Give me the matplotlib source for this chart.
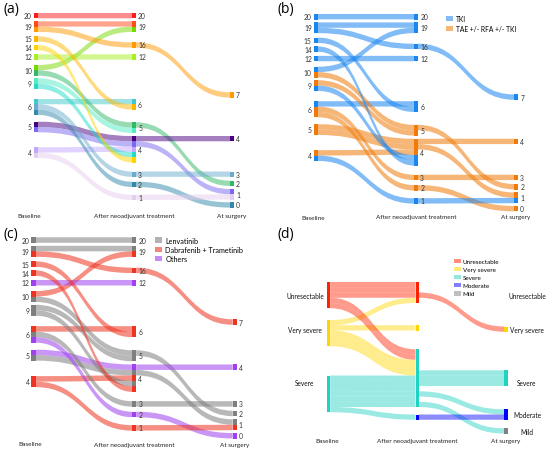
import matplotlib
matplotlib.use("Agg")
import matplotlib.pyplot as plt
from matplotlib.path import Path
from matplotlib.patches import PathPatch, Rectangle, Patch

plt.rcParams['font.family'] = ['Lato', 'DejaVu Sans']

W, H = 550, 452

# one entry per patient, listed in the order they stack in the
# "after neoadjuvant treatment" column (top to bottom)
baseline_score = [20, 19, 10, 19, 12, 6, 15, 10, 9, 5, 5, 4, 9, 14, 6, 6, 4]
after_score = [20, 19, 19, 16, 12, 6, 6, 5, 5, 4, 4, 4, 4, 4, 3, 2, 1]
surgery_score = [None, None, None, 7, None, None, None, 2, None, 4, 1,
                 None, None, None, 3, 0, 1]
treatment = ['TKI', 'TKI', 'TKI', 'TKI', 'TKI', 'TKI', 'TKI', 'TAE', 'TAE',
             'TAE', 'TAE', 'TAE', 'TKI', 'TKI', 'TAE', 'TAE', 'TKI']
drug = ['Lenvatinib', 'Lenvatinib', 'Dabrafenib', 'Dabrafenib', 'Others',
        'Dabrafenib', 'Dabrafenib', 'Lenvatinib', 'Lenvatinib', 'Others',
        'Lenvatinib', 'Dabrafenib', 'Lenvatinib', 'Dabrafenib', 'Lenvatinib',
        'Others', 'Dabrafenib']

# panel (d): severity class per patient
sev_baseline = ['Unresectable', 'Unresectable', 'Unresectable', 'Very severe',
                'Very severe', 'Unresectable', 'Unresectable', 'Very severe',
                'Very severe', 'Very severe', 'Severe', 'Severe', 'Severe',
                'Severe', 'Severe', 'Severe', 'Severe']
sev_after = ['Unresectable', 'Unresectable', 'Unresectable', 'Unresectable',
             'Very severe', 'Severe', 'Severe', 'Severe', 'Severe', 'Severe',
             'Severe', 'Severe', 'Severe', 'Severe', 'Severe', 'Severe',
             'Moderate']
sev_surgery = [None, None, 'Very severe', None, None, None, None, None, None,
               'Severe', 'Severe', 'Severe', None, 'Moderate', None, 'Mild',
               'Moderate']
sev_classes = ['Unresectable', 'Very severe', 'Severe', 'Moderate', 'Mild']

stage_names = ['Baseline', 'After neoadjuvant treatment', 'At surgery']
treat_labels = {'TKI': 'TKI', 'TAE': 'TAE +/- RFA +/- TKI'}
drug_labels = {'Lenvatinib': 'Lenvatinib',
               'Dabrafenib': 'Dabrafenib + Trametinib', 'Others': 'Others'}

# ---- styles / layout
patient_colors = ['#ff1a1a', '#ff4a1a', '#77d900', '#ff9a00', '#a8f022',
                  '#40c8cc', '#ffb400', '#33b866', '#50ecc4', '#4b0082',
                  '#7b68ee', '#c4a6ff', '#22dcc8', '#ffd400', '#6aaccc',
                  '#3389ab', '#e4cdee']
treat_colors = {'TKI': '#1a86f0', 'TAE': '#f07a0a'}
drug_colors = {'Lenvatinib': '#7f7f7f', 'Dabrafenib': '#ee3320',
               'Others': '#a040f0'}
sev_colors = {'Unresectable': '#ff2200', 'Very severe': '#ffd500',
              'Severe': '#20d2c2', 'Moderate': '#0000ff', 'Mild': '#808080'}

UNIT = 5.3
NODE_W = 0.04
node_top = [
    {20: 14.0, 19: 22.3, 15: 37.3, 14: 46.0, 12: 55.3, 10: 66.0, 9: 79.3,
     6: 100.0, 5: 122.7, 4: 148.3},
    {20: 14.0, 19: 22.3, 16: 43.3, 12: 55.3, 6: 100.0, 5: 123.3, 4: 137.0,
     3: 172.5, 2: 182.7, 1: 195.7},
    {7: 93.3, 4: 137.0, 3: 172.5, 2: 181.7, 1: 190.0, 0: 203.3},
]
D_UNIT = 5.25
d_node_top = [
    {'Unresectable': 57.0, 'Very severe': 95.0, 'Severe': 150.5},
    {'Unresectable': 57.0, 'Very severe': 100.25, 'Severe': 124.3,
     'Moderate': 189.5},
    {'Very severe': 101.5, 'Severe': 145.3, 'Moderate': 184.25,
     'Mild': 203.3},
]
d_label_y = {'Unresectable': 70.5, 'Very severe': 104.3, 'Severe': 157.7,
             'Moderate': 189.5, 'Mild': 206.5}

fig = plt.figure(figsize=(W / 100, H / 100), dpi=100)


def make_axes(left, top, x0, dx, y0, sy, w=275, h=226):
    # pixel_x = x0 + dx * x ; pixel_y (from top) = y0 + sy * y
    ax = fig.add_axes([left / W, 1 - (top + h) / H, w / W, h / H])
    ax.set_xlim((left - x0) / dx, (left + w - x0) / dx)
    ax.set_ylim((top + h - y0) / sy, (top - y0) / sy)
    ax.axis('off')
    return ax


def band(ax, x1, a1, b1, x2, a2, b2, color, alpha):
    xm = (x1 + x2) / 2
    verts = [(x1, a1), (xm, a1), (xm, a2), (x2, a2),
             (x2, b2), (xm, b2), (xm, b1), (x1, b1), (x1, a1)]
    codes = [Path.MOVETO, Path.CURVE4, Path.CURVE4, Path.CURVE4,
             Path.LINETO, Path.CURVE4, Path.CURVE4, Path.CURVE4,
             Path.CLOSEPOLY]
    ax.add_patch(PathPatch(Path(verts, codes), facecolor=color,
                           edgecolor='none', lw=0, alpha=alpha))


def slots(stage):
    out, seen = [], {}
    for v in stage:
        if v is None:
            out.append(None)
            continue
        out.append(seen.get(v, 0))
        seen[v] = seen.get(v, 0) + 1
    return out


def alluvial(ax, stages, tops, unit, flow_colors, node_colors, alpha,
             node_w=NODE_W):
    pos = []
    for c, st in enumerate(stages):
        sl = slots(st)
        pos.append([None if v is None else tops[c][v] + s * unit
                    for v, s in zip(st, sl)])
    for c in range(len(stages) - 1):
        for i in range(len(stages[0])):
            if pos[c][i] is None or pos[c + 1][i] is None:
                continue
            band(ax, c + node_w / 2, pos[c][i], pos[c][i] + unit,
                 c + 1 - node_w / 2, pos[c + 1][i], pos[c + 1][i] + unit,
                 flow_colors[c][i], alpha)
    for c in range(len(stages)):
        for i in range(len(stages[0])):
            if pos[c][i] is None:
                continue
            ax.add_patch(Rectangle((c - node_w / 2, pos[c][i]), node_w,
                                   unit + 0.15, facecolor=node_colors[c][i],
                                   edgecolor='none', lw=0))


def score_labels(ax, stages, tops, unit):
    for c, st in enumerate(stages):
        for v in tops[c]:
            n = sum(1 for s in st if s == v)
            y = tops[c][v] + n * unit / 2
            if c == 0:
                ax.text(c - NODE_W / 2 - 0.022, y, str(v), ha='right',
                        va='center', fontsize=4.9, color='#333333')
            else:
                ax.text(c + NODE_W / 2 + 0.022, y, str(v), ha='left',
                        va='center', fontsize=4.9, color='#333333')


def stage_labels(ax, y, shift0=-0.05):
    for c, name in enumerate(stage_names):
        ax.text(c + (shift0 if c == 0 else 0), y, name, ha='center',
                va='center', fontsize=4.6, color='#222222')


stages = [baseline_score, after_score, surgery_score]

# (a) one colour per patient
ax_a = make_axes(0, 0, 36, 98, 0, 1.0)
cols_a = [patient_colors] * 3
alluvial(ax_a, stages, node_top, UNIT, cols_a, cols_a, 0.5)
score_labels(ax_a, stages, node_top, UNIT)
stage_labels(ax_a, 217, -0.07)

# (b) treatment
ax_b = make_axes(275, 0, 316, 100, 0.8, 1.014)
cols_b = [[treat_colors[t] for t in treatment]] * 3
alluvial(ax_b, stages, node_top, UNIT, cols_b, cols_b, 0.55)
score_labels(ax_b, stages, node_top, UNIT)
stage_labels(ax_b, (218 - 0.8) / 1.014, -0.03)
ax_b.legend(handles=[Patch(facecolor=treat_colors[k], alpha=0.55,
                           label=treat_labels[k]) for k in treat_labels],
            loc='upper left', bbox_to_anchor=(446 / W, 1 - 16 / H),
            bbox_transform=fig.transFigure, frameon=False, fontsize=4.8,
            handlelength=1.0, handleheight=0.75, handletextpad=0.45,
            labelspacing=0.4, borderpad=0, borderaxespad=0)

# (c) drug
ax_c = make_axes(0, 226, 33.5, 100.6, 223.8, 1.034)
cols_c = [[drug_colors[d] for d in drug]] * 3
alluvial(ax_c, stages, node_top, UNIT, cols_c, cols_c, 0.55)
score_labels(ax_c, stages, node_top, UNIT)
stage_labels(ax_c, (445 - 223.8) / 1.034, -0.035)
ax_c.legend(handles=[Patch(facecolor=drug_colors[k], alpha=0.6,
                           label=drug_labels[k]) for k in drug_labels],
            loc='upper left', bbox_to_anchor=(154.5 / W, 1 - 237.5 / H),
            bbox_transform=fig.transFigure, frameon=False, fontsize=5.2,
            handlelength=1.1, handleheight=0.75, handletextpad=0.4,
            labelspacing=0.33, borderpad=0, borderaxespad=0)

# (d) severity
ax_d = make_axes(275, 226, 328.5, 88.7, 226, 1.0)
d_stages = [sev_baseline, sev_after, sev_surgery]
flow_d = [[sev_colors[s] for s in st] for st in d_stages[:2]]
node_d = [[None if s is None else sev_colors[s] for s in st]
          for st in d_stages]
alluvial(ax_d, d_stages, d_node_top, D_UNIT, flow_d, node_d, 0.45,
         node_w=0.037)
for s in ['Unresectable', 'Very severe', 'Severe']:
    ax_d.text(-0.265, d_label_y[s], s, ha='center', va='center',
              fontsize=4.7, color='#111111')
for s in sev_classes:
    ax_d.text(2.238, d_label_y[s], s, ha='center', va='center',
              fontsize=4.7, color='#111111')
stage_labels(ax_d, 216, -0.02)
ax_d.legend(handles=[Patch(facecolor=sev_colors[k], alpha=0.5, label=k)
                     for k in sev_classes],
            loc='upper left', bbox_to_anchor=(454 / W, 1 - 259.5 / H),
            bbox_transform=fig.transFigure, frameon=False, fontsize=4.5,
            handlelength=1.1, handleheight=0.8, handletextpad=0.3,
            labelspacing=0.4, borderpad=0, borderaxespad=0)

# panel tags
for tag, (px, py) in zip(['(a)', '(b)', '(c)', '(d)'],
                         [(3, 9), (278, 9), (3, 235), (278, 235)]):
    fig.text(px / W, 1 - py / H, tag, ha='left', va='center', fontsize=10,
             family=['Open Sans', 'DejaVu Sans'])

fig.savefig('out.png', dpi=100)
